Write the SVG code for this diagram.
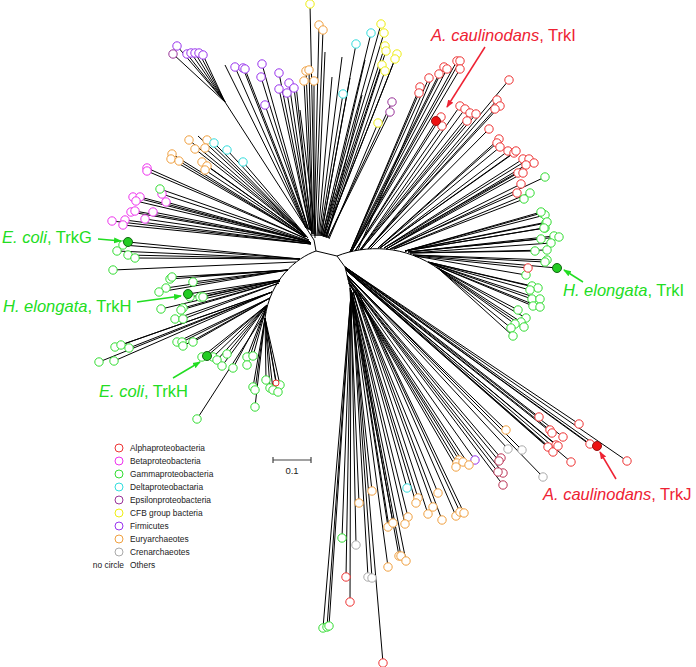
<svg xmlns="http://www.w3.org/2000/svg" width="696" height="667" viewBox="0 0 696 667">
<style>
.b{stroke:#000;stroke-width:1;fill:none}
circle{fill:#fff;stroke-width:1}
.al{stroke:#ee3333}.be{stroke:#ee33ee}.ga{stroke:#33dd33}.de{stroke:#33dddd}.ep{stroke:#993399}.cf{stroke:#eeee11}.fi{stroke:#9933ee}.eu{stroke:#f0a040}.cr{stroke:#aaaaaa}.mr{stroke:#bb3355}
.fr{fill:#ee1111;stroke:#991111}.fg{fill:#22cc22;stroke:#116611}
.lab{font-family:"Liberation Sans",Arial,sans-serif;font-size:16.5px}
.red{fill:#ee2233}.grn{fill:#22dd22}
.leg{font-family:"Liberation Sans",Arial,sans-serif;font-size:8.4px;fill:#222}
.ar{stroke-width:1.5;fill:none}
</style>
<defs>
<marker id="ahr" markerWidth="8" markerHeight="8" refX="7" refY="4" orient="auto" markerUnits="userSpaceOnUse"><path d="M0,1 L8,4 L0,7 Z" fill="#ee2233"/></marker>
<marker id="ahg" markerWidth="8" markerHeight="8" refX="7" refY="4" orient="auto" markerUnits="userSpaceOnUse"><path d="M0,1 L8,4 L0,7 Z" fill="#22dd22"/></marker>
</defs>
<rect width="696" height="667" fill="#fff"/>
<g id="branches" class="b">
<path d="M316,251 L314,240 M316,251 L337,256 M316,251 C296,258 270,280 265,318 M337,256 C365,245 405,244 440,270 M337,256 L345,267 L352,295"/>
<path d="M314,240 L225,102 M225,102 L177,46 M225,102 L173,54 M225,102 L187,54 M225,102 L191,53 M225,102 L195,53 M225,102 L199,53 M225,102 L203,55 M306,228 L225,65
M306,228 L235,67 M306,228 L243,68 M307,228 L245,69 M308,229 L262,64 M308,229 L261,77 M310,230 L279,73 M311,231 L289,83 M310,230 L279,89 M311,231 L287,93 M312,232 L294,88 M309,230 L265,105
M314,236 L319,25 M315,236 L323,30 M313,234 L306,71 M313,234 L309,70 M312,234 L304,81 M314,234 L314,81 M315,238 L310,4
M317,236 L325,52 M319,236 L342,57 M318,236 L332,77 M312,236 L296,85 M316,236 L300,110 M321,236 L350,78 M320,236 L343,94
M322,236 L381,24 M323,236 L384,33 M323,237 L385,46 M324,237 L386,51 M325,237 L397,54 M325,237 L395,59 M326,237 L382,65 M326,238 L385,71 M322,236 L371,33 M321,236 L356,44 M324,237 L365,60 M327,238 L362,95
M328,238 L392,102 M328,238 L390,112 M329,239 L378,123"/>
<path d="M306,236 L189,140 M306,236 L207,140 M306,236 L195,149 M306,236 L205,148 M305,237 L172,154 M305,237 L171,159 M305,237 L179,161 M306,237 L202,162 M306,237 L207,166 M306,237 L205,170 M307,237 L214,143 M307,237 L227,150 M308,238 L243,162 M307,237 L198,136
M309,240 L147,168 M309,240 L147,171 M309,241 L160,189 M310,242 L133,197 M310,242 L140,197 M310,242 L136,201 M310,242 L162,194 M310,242 L166,202 M311,243 L131,212 M311,243 L135,211 M311,243 L153,212 M311,243 L145,219 M311,244 L112,221 M311,244 L125,220 M311,244 L123,225"/>
<path d="M300,259 L128,242 M300,259 L123,245 M300,259 L117,251 M300,259 L128,255 M300,259 L135,258 M296,262 L113,270
M288,270 L170,279 M288,270 L172,277 M288,270 L193,282 M288,270 L166,288 M288,270 L159,292 M288,270 L200,276
M280,280 L188,294 M280,280 L190,297 M280,280 L200,297 M280,280 L203,297 M280,281 L161,309 M280,281 L183,308 M280,281 L181,310 M279,283 L175,319 M279,283 L183,319
M272,292 L115,347 M272,292 L121,345 M272,292 L129,348 M272,292 L99,362 M272,292 L114,361
M270,298 L177,342 M270,298 L182,342 M270,298 L183,346 M270,298 L193,342
M267,305 L207,356 M267,305 L202,357 M267,305 L213,357 M267,305 L217,360 M267,305 L222,366 M267,305 L233,368 M267,305 L227,354 M267,305 L247,357 M267,305 L253,356 M267,305 L247,365
M266,312 L197,419
M265,318 L266,380 M265,318 L253,387 M265,318 L255,390 M265,318 L270,388 M265,318 L273,390 M265,318 L280,385 M265,318 L278,392 M265,318 L276,383 M265,318 L255,407"/>
<path d="M350,252 L420,87 M350,252 L419,93 M350,252 L429,78 M350,252 L439,74 M351,252 L444,67 M351,252 L447,69 M352,251 L457,61 M352,251 L460,61 M352,251 L460,69 M355,251 L441,117 M355,251 L436,121 M355,251 L442,126 M358,250 L430,82
M360,250 L460,106 M360,250 L465,109 M360,250 L470,113 M361,250 L476,114 M361,250 L467,121 M368,249 L509,80 M368,249 L497,100 M368,249 L500,106 M368,249 L495,109 M370,249 L489,129
M378,248 L499,139 M378,248 L497,143 M378,248 L500,147 M380,248 L508,151 M380,248 L514,153 M380,248 L516,151 M384,248 L523,159 M384,248 L529,159 M384,248 L534,163 M386,249 L526,165 M386,249 L518,173 M386,249 L523,173 M390,249 L521,184 M390,249 L517,193 M392,249 L545,177 M394,249 L530,193 M394,249 L524,199"/>
<path d="M405,251 L542,213 M405,251 L545,215 M405,251 L546,223 M405,251 L545,228 M405,251 L541,212 M405,251 L547,222 M405,251 L544,228 M408,252 L554,236 M408,252 L559,237 M408,252 L541,239 M410,253 L551,243 M410,253 L547,250 M410,253 L535,251 M413,255 L547,260 M413,255 L545,262 M413,255 L557,268 M415,256 L528,268 M415,256 L526,275
M428,262 L532,286 M428,262 L538,288 M428,262 L530,290 M430,263 L532,299 M430,263 L540,299 M432,264 L533,306 M432,264 L540,307 M436,267 L518,310 M438,268 L526,318 M438,268 L521,322 M440,270 L515,324 M440,270 L524,327 M440,270 L511,328 M440,270 L513,336"/>
<path d="M345,267 L539,417 M345,267 L579,424 M345,268 L550,430 M345,268 L552,433 M345,268 L563,437 M346,269 L556,445 M346,269 L548,447 M345,267 L590,444 M345,267 L597,446 M345,267 L589,444 M345,267 L627,461 M346,270 L571,462 M346,270 L548,446 M346,270 L553,452 M346,270 L558,446
M347,275 L508,449 M347,275 L522,450 M347,275 L543,477 M347,276 L506,430 M348,278 L501,458 M348,278 L499,461 M348,279 L503,473 M348,279 L498,472 M348,279 L503,485 M349,282 L475,460 M349,283 L459,460 M349,283 L457,463 M349,283 L456,467 M349,283 L463,462 M349,283 L469,465"/>
<path d="M350,288 L372,491 M350,288 L359,503 M351,290 L388,527 M351,290 L393,523 M351,291 L388,567 M351,291 L399,556 M353,292 L407,488 M353,292 L418,498 M353,292 L416,503 M355,290 L438,493 M355,290 L433,507 M355,291 L428,514 M356,291 L442,520 M357,290 L456,516 M357,290 L460,512 M357,290 L464,513 M352,293 L408,517 M352,293 L405,524 M352,293 L389,527 M352,294 L401,556 M352,294 L406,561
M351,293 L342,538 M351,293 L356,545 M351,293 L346,577 M352,294 L368,577 M352,294 L372,578 M351,294 L350,602 M351,294 L323,628 M351,294 L327,627 M351,294 L329,626 M352,295 L383,663"/>
</g>
<g id="leaves">
<g class="fi"><circle cx="177" cy="46" r="4.2"/><circle cx="187" cy="54" r="4.2"/><circle cx="191" cy="53" r="4.2"/><circle cx="195" cy="53" r="4.2"/><circle cx="199" cy="53" r="4.2"/><circle cx="203" cy="55" r="4.2"/>
<circle cx="235" cy="67" r="4.2"/><circle cx="243" cy="68" r="4.2"/><circle cx="245" cy="69" r="4.2"/><circle cx="262" cy="64" r="4.2"/><circle cx="261" cy="77" r="4.2"/><circle cx="279" cy="73" r="4.2"/><circle cx="289" cy="83" r="4.2"/><circle cx="279" cy="89" r="4.2"/><circle cx="287" cy="93" r="4.2"/><circle cx="294" cy="88" r="4.2"/><circle cx="265" cy="105" r="4.2"/><circle cx="475" cy="460" r="4.2"/></g>
<g class="ep"><circle cx="173" cy="54" r="4.2"/><circle cx="392" cy="102" r="4.2"/><circle cx="390" cy="112" r="4.2"/></g>
<g class="eu"><circle cx="319" cy="25" r="4.2"/><circle cx="323" cy="30" r="4.2"/><circle cx="306" cy="71" r="4.2"/><circle cx="309" cy="70" r="4.2"/><circle cx="304" cy="81" r="4.2"/><circle cx="314" cy="81" r="4.2"/>
<circle cx="189" cy="140" r="4.2"/><circle cx="207" cy="140" r="4.2"/><circle cx="195" cy="149" r="4.2"/><circle cx="205" cy="148" r="4.2"/><circle cx="172" cy="154" r="4.2"/><circle cx="171" cy="159" r="4.2"/><circle cx="179" cy="161" r="4.2"/><circle cx="202" cy="162" r="4.2"/><circle cx="207" cy="166" r="4.2"/><circle cx="205" cy="170" r="4.2"/>
<circle cx="506" cy="430" r="4.2"/><circle cx="459" cy="460" r="4.2"/><circle cx="457" cy="463" r="4.2"/><circle cx="456" cy="467" r="4.2"/><circle cx="463" cy="462" r="4.2"/><circle cx="469" cy="465" r="4.2"/>
<circle cx="372" cy="491" r="4.2"/><circle cx="359" cy="503" r="4.2"/><circle cx="388" cy="527" r="4.2"/><circle cx="393" cy="523" r="4.2"/><circle cx="388" cy="567" r="4.2"/><circle cx="399" cy="556" r="4.2"/><circle cx="418" cy="498" r="4.2"/><circle cx="416" cy="503" r="4.2"/><circle cx="438" cy="493" r="4.2"/><circle cx="433" cy="507" r="4.2"/><circle cx="428" cy="514" r="4.2"/><circle cx="442" cy="520" r="4.2"/><circle cx="456" cy="516" r="4.2"/><circle cx="460" cy="512" r="4.2"/><circle cx="464" cy="513" r="4.2"/><circle cx="408" cy="517" r="4.2"/><circle cx="405" cy="524" r="4.2"/><circle cx="401" cy="556" r="4.2"/><circle cx="406" cy="561" r="4.2"/></g>
<g class="cf"><circle cx="310" cy="4" r="4.2"/><circle cx="381" cy="24" r="4.2"/><circle cx="384" cy="33" r="4.2"/><circle cx="385" cy="46" r="4.2"/><circle cx="386" cy="51" r="4.2"/><circle cx="397" cy="54" r="4.2"/><circle cx="395" cy="59" r="4.2"/><circle cx="382" cy="65" r="4.2"/><circle cx="385" cy="71" r="4.2"/><circle cx="378" cy="123" r="4.2"/></g>
<g class="de"><circle cx="343" cy="94" r="4.2"/><circle cx="371" cy="33" r="4.2"/><circle cx="356" cy="44" r="4.2"/><circle cx="214" cy="143" r="4.2"/><circle cx="227" cy="150" r="4.2"/><circle cx="243" cy="162" r="4.2"/><circle cx="407" cy="488" r="4.2"/></g>
<g class="be"><circle cx="147" cy="168" r="4.2"/><circle cx="147" cy="171" r="4.2"/><circle cx="133" cy="197" r="4.2"/><circle cx="140" cy="197" r="4.2"/><circle cx="136" cy="201" r="4.2"/><circle cx="162" cy="194" r="4.2"/><circle cx="166" cy="202" r="4.2"/><circle cx="131" cy="212" r="4.2"/><circle cx="135" cy="211" r="4.2"/><circle cx="153" cy="212" r="4.2"/><circle cx="145" cy="219" r="4.2"/><circle cx="112" cy="221" r="4.2"/><circle cx="125" cy="220" r="4.2"/><circle cx="123" cy="225" r="4.2"/></g>
<g class="ga"><circle cx="160" cy="189" r="4.2"/><circle cx="123" cy="245" r="4.2"/><circle cx="117" cy="251" r="4.2"/><circle cx="128" cy="255" r="4.2"/><circle cx="135" cy="258" r="4.2"/><circle cx="113" cy="270" r="4.2"/>
<circle cx="170" cy="279" r="4.2"/><circle cx="172" cy="277" r="4.2"/><circle cx="193" cy="282" r="4.2"/><circle cx="166" cy="288" r="4.2"/><circle cx="159" cy="292" r="4.2"/><circle cx="190" cy="297" r="4.2"/><circle cx="200" cy="297" r="4.2"/><circle cx="203" cy="297" r="4.2"/><circle cx="161" cy="309" r="4.2"/><circle cx="183" cy="308" r="4.2"/><circle cx="181" cy="310" r="4.2"/><circle cx="175" cy="319" r="4.2"/><circle cx="183" cy="319" r="4.2"/>
<circle cx="115" cy="347" r="4.2"/><circle cx="121" cy="345" r="4.2"/><circle cx="129" cy="348" r="4.2"/><circle cx="99" cy="362" r="4.2"/><circle cx="114" cy="361" r="4.2"/><circle cx="177" cy="342" r="4.2"/><circle cx="182" cy="342" r="4.2"/><circle cx="183" cy="346" r="4.2"/><circle cx="193" cy="342" r="4.2"/>
<circle cx="202" cy="357" r="4.2"/><circle cx="213" cy="357" r="4.2"/><circle cx="217" cy="360" r="4.2"/><circle cx="222" cy="366" r="4.2"/><circle cx="233" cy="368" r="4.2"/><circle cx="227" cy="354" r="4.2"/><circle cx="247" cy="357" r="4.2"/><circle cx="253" cy="356" r="4.2"/><circle cx="247" cy="365" r="4.2"/><circle cx="197" cy="419" r="4.2"/>
<circle cx="266" cy="380" r="4.2"/><circle cx="253" cy="387" r="4.2"/><circle cx="255" cy="390" r="4.2"/><circle cx="270" cy="388" r="4.2"/><circle cx="273" cy="390" r="4.2"/><circle cx="280" cy="385" r="4.2"/><circle cx="278" cy="392" r="4.2"/><circle cx="255" cy="407" r="4.2"/>
<circle cx="545" cy="177" r="4.2"/><circle cx="530" cy="193" r="4.2"/><circle cx="524" cy="199" r="4.2"/><circle cx="542" cy="213" r="4.2"/><circle cx="545" cy="215" r="4.2"/><circle cx="546" cy="223" r="4.2"/><circle cx="545" cy="228" r="4.2"/><circle cx="541" cy="212" r="4.2"/><circle cx="547" cy="222" r="4.2"/><circle cx="544" cy="228" r="4.2"/><circle cx="554" cy="236" r="4.2"/><circle cx="559" cy="237" r="4.2"/><circle cx="541" cy="239" r="4.2"/><circle cx="551" cy="243" r="4.2"/><circle cx="547" cy="250" r="4.2"/><circle cx="535" cy="251" r="4.2"/><circle cx="547" cy="260" r="4.2"/><circle cx="545" cy="262" r="4.2"/><circle cx="526" cy="275" r="4.2"/>
<circle cx="532" cy="286" r="4.2"/><circle cx="538" cy="288" r="4.2"/><circle cx="530" cy="290" r="4.2"/><circle cx="532" cy="299" r="4.2"/><circle cx="540" cy="299" r="4.2"/><circle cx="533" cy="306" r="4.2"/><circle cx="540" cy="307" r="4.2"/><circle cx="518" cy="310" r="4.2"/><circle cx="526" cy="318" r="4.2"/><circle cx="521" cy="322" r="4.2"/><circle cx="515" cy="324" r="4.2"/><circle cx="524" cy="327" r="4.2"/><circle cx="511" cy="328" r="4.2"/><circle cx="513" cy="336" r="4.2"/>
<circle cx="342" cy="538" r="4.2"/><circle cx="323" cy="628" r="4.2"/><circle cx="327" cy="627" r="4.2"/><circle cx="329" cy="626" r="4.2"/></g>
<g class="al"><circle cx="276" cy="383" r="3"/><circle cx="420" cy="87" r="4.2"/><circle cx="419" cy="93" r="4.2"/><circle cx="429" cy="78" r="4.2"/><circle cx="439" cy="74" r="4.2"/><circle cx="444" cy="67" r="4.2"/><circle cx="447" cy="69" r="4.2"/><circle cx="457" cy="61" r="4.2"/><circle cx="460" cy="61" r="4.2"/><circle cx="460" cy="69" r="4.2"/><circle cx="509" cy="80" r="4.2"/><circle cx="441" cy="117" r="4.2"/><circle cx="442" cy="126" r="4.2"/><circle cx="460" cy="106" r="4.2"/><circle cx="465" cy="109" r="4.2"/><circle cx="470" cy="113" r="4.2"/><circle cx="476" cy="114" r="4.2"/><circle cx="467" cy="121" r="4.2"/><circle cx="497" cy="100" r="4.2"/><circle cx="500" cy="106" r="4.2"/><circle cx="495" cy="109" r="4.2"/><circle cx="489" cy="129" r="4.2"/><circle cx="499" cy="139" r="4.2"/><circle cx="497" cy="143" r="4.2"/><circle cx="500" cy="147" r="4.2"/><circle cx="508" cy="151" r="4.2"/><circle cx="514" cy="153" r="4.2"/><circle cx="516" cy="151" r="4.2"/><circle cx="523" cy="159" r="4.2"/><circle cx="529" cy="159" r="4.2"/><circle cx="534" cy="163" r="4.2"/><circle cx="526" cy="165" r="4.2"/><circle cx="518" cy="173" r="4.2"/><circle cx="523" cy="173" r="4.2"/><circle cx="521" cy="184" r="4.2"/><circle cx="517" cy="193" r="4.2"/><circle cx="528" cy="268" r="4.2"/>
<circle cx="539" cy="417" r="4.2"/><circle cx="579" cy="424" r="4.2"/><circle cx="550" cy="430" r="4.2"/><circle cx="552" cy="433" r="4.2"/><circle cx="563" cy="437" r="4.2"/><circle cx="556" cy="445" r="4.2"/><circle cx="548" cy="447" r="4.2"/><circle cx="590" cy="444" r="4.2"/><circle cx="627" cy="461" r="4.2"/><circle cx="571" cy="462" r="4.2"/><circle cx="553" cy="452" r="4.2"/><circle cx="558" cy="446" r="4.2"/>
<circle cx="346" cy="577" r="4.2"/><circle cx="350" cy="602" r="4.2"/><circle cx="383" cy="663" r="4.2"/></g>
<g class="mr"><circle cx="501" cy="458" r="4.2"/><circle cx="499" cy="461" r="4.2"/><circle cx="503" cy="473" r="4.2"/><circle cx="498" cy="472" r="4.2"/><circle cx="503" cy="485" r="4.2"/></g>
<g class="cr"><circle cx="508" cy="449" r="4.2"/><circle cx="522" cy="450" r="4.2"/><circle cx="543" cy="477" r="4.2"/><circle cx="356" cy="545" r="4.2"/><circle cx="368" cy="577" r="4.2"/><circle cx="372" cy="578" r="4.2"/></g>
<circle class="fr" cx="436" cy="121" r="4.5"/><circle class="fr" cx="597" cy="446" r="4.5"/>
<circle class="fg" cx="128" cy="242" r="4.5"/><circle class="fg" cx="188" cy="294" r="4.5"/><circle class="fg" cx="207" cy="356" r="4.5"/><circle class="fg" cx="557" cy="268" r="4.5"/>
</g>
<g id="labels">
<g id="lab-trki-ac"><text x="431" y="41" class="lab red"><tspan font-style="italic">A. caulinodans</tspan>, TrkI</text><line x1="485" y1="47" x2="447" y2="107" stroke="#ee2233" class="ar" marker-end="url(#ahr)"/></g>
<g id="lab-trkg"><text x="2" y="243" class="lab grn"><tspan font-style="italic">E. coli</tspan>, TrkG</text><line x1="98" y1="239" x2="121" y2="241" stroke="#22dd22" class="ar" marker-end="url(#ahg)"/></g>
<g id="lab-trkh-he"><text x="3" y="312" class="lab grn"><tspan font-style="italic">H. elongata</tspan>, TrkH</text><line x1="137" y1="302" x2="181" y2="296" stroke="#22dd22" class="ar" marker-end="url(#ahg)"/></g>
<g id="lab-trkh-ec"><text x="99" y="397" class="lab grn"><tspan font-style="italic">E. coli</tspan>, TrkH</text><line x1="173" y1="378" x2="200" y2="362" stroke="#22dd22" class="ar" marker-end="url(#ahg)"/></g>
<g id="lab-trki-he"><text x="563" y="296" class="lab grn"><tspan font-style="italic">H. elongata</tspan>, TrkI</text><line x1="583" y1="282" x2="564" y2="270" stroke="#22dd22" class="ar" marker-end="url(#ahg)"/></g>
<g id="lab-trkj"><text x="543" y="500" class="lab red"><tspan font-style="italic">A. caulinodans</tspan>, TrkJ</text><line x1="616" y1="479" x2="600" y2="452" stroke="#ee2233" class="ar" marker-end="url(#ahr)"/></g>
</g>
<g id="legend">
<circle class="al" cx="119" cy="448" r="4"/><text class="leg" x="130" y="451">Alphaproteobacteria</text>
<circle class="be" cx="119" cy="461" r="4"/><text class="leg" x="130" y="464">Betaproteobacteria</text>
<circle class="ga" cx="119" cy="474" r="4"/><text class="leg" x="130" y="477">Gammaproteobacteria</text>
<circle class="de" cx="119" cy="487" r="4"/><text class="leg" x="130" y="490">Deltaproteobactaria</text>
<circle class="ep" cx="119" cy="500" r="4"/><text class="leg" x="130" y="503">Epsilonproteobacteria</text>
<circle class="cf" cx="119" cy="513" r="4"/><text class="leg" x="130" y="516">CFB group bacteria</text>
<circle class="fi" cx="119" cy="526" r="4"/><text class="leg" x="130" y="529">Firmicutes</text>
<circle class="eu" cx="119" cy="539" r="4"/><text class="leg" x="130" y="542">Euryarchaeotes</text>
<circle class="cr" cx="119" cy="552" r="4"/><text class="leg" x="130" y="555">Crenarchaeotes</text>
<text class="leg" x="124" y="568" text-anchor="end">no circle</text><text class="leg" x="130" y="568">Others</text>
</g>
<g id="scale">
<path d="M273,460 H311 M273,457 V463 M311,457 V463" stroke="#444" stroke-width="1.2" fill="none"/>
<text x="292" y="474" text-anchor="middle" font-family="Liberation Sans, Arial, sans-serif" font-size="9.5" fill="#222">0.1</text>
</g>
</svg>
